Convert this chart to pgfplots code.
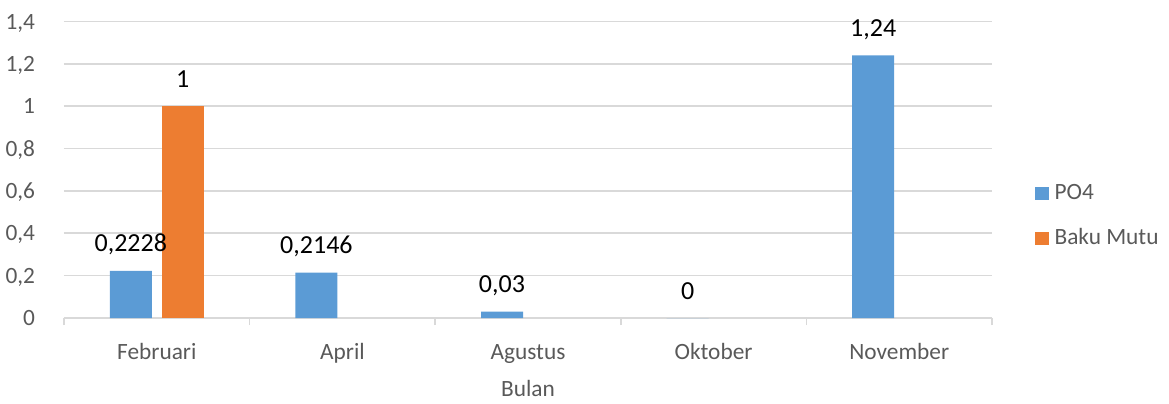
\documentclass[border=0pt]{standalone}
\usepackage{pgfplots}
\pgfplotsset{compat=1.18}
\usepackage{pgfplotstable}
\usepackage{fontspec}
\setmainfont{Carlito}
\definecolor{poblue}{HTML}{5B9BD5}
\definecolor{bmorange}{HTML}{ED7D31}
\definecolor{gridgray}{HTML}{D9D9D9}
\definecolor{txtgray}{HTML}{595959}
\pgfplotstableread{
x y lab
0 0.2228 {0,2228}
1 0.2146 {0,2146}
2 0.03 {0,03}
3 0 {0}
4 1.24 {1,24}
}\poData
\pgfplotstableread{
x y lab
0 1 {1}
}\bmData
\begin{document}
\begin{tikzpicture}
\begin{axis}[
  scale only axis,
  width=696pt, height=222.4pt,
  xmin=-0.5, xmax=4.5, ymin=0, ymax=1.4,
  clip=false,
  ybar=7.5pt, bar width=31.5pt,
  xtick={0,1,2,3,4},
  xticklabels={Februari,April,Agustus,Oktober,November},
  minor xtick={-0.5,0.5,1.5,2.5,3.5,4.5},
  xtick style={draw=none},
  minor x tick style={draw=gridgray, line width=1.2pt},
  minor tick length=5.25pt,
  tick align=outside,
  ytick={0,0.2,0.4,0.6,0.8,1,1.2,1.4},
  yticklabels={0,{0,2},{0,4},{0,6},{0,8},1,{1,2},{1,4}},
  ytick style={draw=none},
  ymajorgrids,
  grid style={draw=gridgray, line width=1.2pt},
  axis x line*=bottom,
  axis y line*=left,
  y axis line style={draw=none},
  x axis line style={draw=gridgray, line width=1.2pt},
  every x tick label/.append style={anchor=base, inner sep=0pt, yshift=-26.5pt, font=\fontsize{17.5pt}{20pt}\selectfont, text=txtgray},
  every y tick label/.append style={anchor=base east, inner sep=0pt, xshift=-17.25pt, yshift=-5.7pt, font=\fontsize{17.5pt}{20pt}\selectfont, text=txtgray},
  xlabel={Bulan},
  xlabel style={at={(axis description cs:0.5,0)}, anchor=base, inner sep=0pt, yshift=-59pt, font=\fontsize{17.5pt}{20pt}\selectfont, text=txtgray},
  nodes near coords,
  point meta=explicit symbolic,
  every node near coord/.append style={anchor=base, inner sep=0pt, yshift=14.25pt, font=\fontsize{19.5pt}{22pt}\selectfont, text=black},
  legend style={at={(1.0463,0.3507)}, anchor=west, draw=none, fill=none, inner sep=0pt, row sep=21pt,
    nodes={inner sep=0pt, text height=12pt, text depth=0pt, font=\fontsize{17.5pt}{20pt}\selectfont, text=txtgray},
    /tikz/every odd column/.append style={column sep=4.5pt}},
  legend cell align=left,
  legend image code/.code={\fill[#1] (0pt,-6.75pt) rectangle (10pt,3.25pt);},
]
\addplot[fill=poblue, draw=none] table[x=x, y=y, meta=lab] {\poData};
\addplot[fill=bmorange, draw=none] table[x=x, y=y, meta=lab] {\bmData};
\legend{PO4, Baku Mutu}
\end{axis}
\pgfresetboundingbox
\path[use as bounding box] (-48pt,-63.75pt) rectangle (828.75pt,238.5pt);
\end{tikzpicture}
\end{document}
